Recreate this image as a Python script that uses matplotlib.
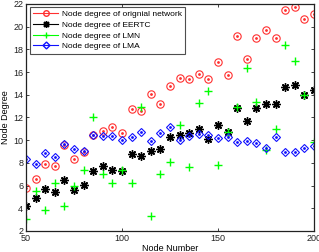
import matplotlib
matplotlib.use("Agg")
import matplotlib.pyplot as plt
from matplotlib.lines import Line2D

node_number = list(range(50, 201, 5))

degree_original = [5.81, 6.58, 7.88, 7.73, 9.55, 8.32, 8.93, 10.49, 10.84, 11.16, 10.66,
                   12.78, 12.57, 14.07, 13.22, 14.80, 15.48, 15.37, 15.83, 15.42, 16.93,
                   15.74, 19.18, 17.16, 18.98, 19.71, 18.98, 21.47, 21.71, 20.68, 21.09]

degree_eertc = [4.20, 4.88, 5.67, 5.41, 6.47, 5.59, 6.05, 7.31, 7.73, 7.35, 7.26,
                8.78, 8.61, 9.02, 9.20, 10.28, 10.49, 10.66, 10.99, 10.13, 11.34,
                10.75, 12.87, 11.69, 12.87, 13.19, 13.16, 14.66, 14.84, 13.98, 14.40]

degree_lmn = [3.06, 5.55, 3.82, 6.20, 4.18, 5.94, 7.35, 12.04, 7.02, 6.23, 7.40,
              6.26, 12.90, 3.35, 6.98, 8.05, 11.30, 7.61, 13.25, 14.30, 7.80,
              10.75, 12.95, 16.33, 13.34, 9.10, 11.02, 18.39, 16.95, 13.98, 9.87]

degree_lma = [8.33, 7.90, 8.85, 8.55, 9.67, 9.20, 9.08, 10.49, 10.40, 10.34, 10.05,
              10.31, 10.69, 9.93, 10.61, 11.13, 10.02, 10.37, 10.55, 10.49, 10.15,
              10.31, 9.87, 9.96, 9.78, 9.34, 10.31, 8.99, 8.93, 9.34, 9.52]

labels = ["Node degree of orignial network", "Node degree of EERTC",
          "Node degree of LMN", "Node degree of LMA"]

plt.rcParams['font.family'] = ['Liberation Sans', 'DejaVu Sans']

fig = plt.figure(figsize=(3.19, 2.52), dpi=100)
ax = fig.add_axes([26/319, 1-231/252, (314-26)/319, (231-4)/252])

red = '#ff3030'
green = '#00ff00'
blue = '#1010ff'
asterisk = (8, 2, 0)

ax.plot(node_number, degree_original, linestyle='none', marker='o', ms=5.3, mfc='none',
        mec=red, mew=0.8)
ax.plot(node_number, degree_original, linestyle='none', marker='.', ms=2, color=red)
ax.plot(node_number, degree_eertc, linestyle='none', marker=asterisk, ms=6, color='black', mew=1.0)
ax.plot(node_number, degree_lmn, linestyle='none', marker='+', ms=6, color=green, mew=1.0)
ax.plot(node_number, degree_lma, linestyle='none', marker='D', ms=4.3, mfc='none',
        mec=blue, mew=0.8)
ax.plot(node_number, degree_lma, linestyle='none', marker='.', ms=2, color=blue)

ax.set_xlim(50, 200)
ax.set_ylim(2, 22)
ax.set_xticks([50, 100, 150, 200])
ax.set_yticks(list(range(2, 23, 2)))
ax.tick_params(direction='in', length=2.5, width=0.6, labelsize=6.5, pad=2,
               top=True, right=True, colors='#222222')
for s in ax.spines.values():
    s.set_linewidth(0.9)
    s.set_color('#222222')

ax.set_xlabel('Node Number', fontsize=6.5, labelpad=1)
ax.set_ylabel('Node Degree', fontsize=6.5, labelpad=2)

handles = [
    Line2D([], [], color=red, marker='o', mfc='none', mec=red, ms=4, lw=0.8),
    Line2D([], [], color='black', marker=asterisk, ms=5, mew=1.0, lw=0.8),
    Line2D([], [], color=green, marker='+', ms=5, lw=0.8),
    Line2D([], [], color=blue, marker='D', mfc='none', mec=blue, ms=3.5, lw=0.8),
]
leg = ax.legend(handles, labels, loc='upper left', bbox_to_anchor=(4/288, 1-3/227),
                fontsize=6, frameon=True, fancybox=False, edgecolor='#222222',
                handlelength=3.0, handletextpad=0.4, borderpad=0.4, labelspacing=0.35,
                borderaxespad=0)
leg.get_frame().set_linewidth(0.8)

fig.savefig('out.png', dpi=100)
